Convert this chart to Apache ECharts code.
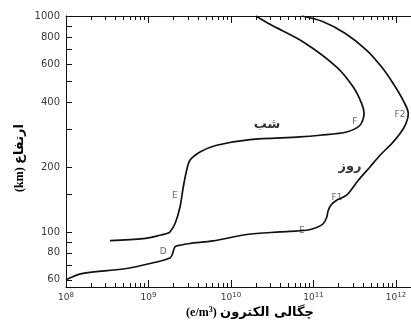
<!DOCTYPE html>
<html><head><meta charset="utf-8">
<script src="https://cdn.jsdelivr.net/npm/echarts@6/dist/echarts.min.js"></script>
<style>html,body{margin:0;padding:0;background:#fff}#c{width:411px;height:322px}</style>
</head><body><div id="c"></div>
<script>
// Day profile (روز): electron density (e/m^3) and altitude (km)
const dayDensity  = [1.0e8, 1.55e8, 5.45e8, 1.04e9, 1.82e9, 1.95e9, 2.09e9, 2.41e9, 3.18e9, 6.1e9, 1.55e10, 3.93e10, 8.27e10, 1.09e11, 1.32e11, 1.45e11, 1.51e11, 1.66e11, 1.91e11, 2.52e11, 3.49e11, 4.84e11, 6.4e11, 8.87e11, 1.12e12, 1.32e12, 1.41e12, 1.22e12, 9.2e11, 6.71e11, 4.42e11, 2.41e11, 1.27e11, 7.2e10];
const dayAltitude = [60, 64.1, 67.7, 71.4, 75.8, 78.9, 85.2, 86.8, 88.4, 90.9, 97.3, 100, 101.8, 104.8, 109.4, 117.3, 126.1, 134.3, 140.3, 147.9, 173.5, 200, 226.5, 256.6, 285.5, 317.6, 353, 407, 488, 580, 694, 832, 945, 1000];
// Night profile (شب)
const nightDensity  = [3.41e8, 8.65e8, 1.38e9, 1.66e9, 1.82e9, 2.1e9, 2.41e9, 2.64e9, 2.9e9, 3.18e9, 4.21e9, 6.7e9, 1.7e10, 6.85e10, 1.2e11, 2.52e11, 3.66e11, 4.1e11, 3.84e11, 3.03e11, 1.91e11, 7.52e10, 2.97e10, 2.01e10];
const nightAltitude = [91.1, 93.2, 96.5, 98.3, 100, 109.4, 130.5, 161.5, 193, 214.7, 234.6, 252, 267.8, 275.3, 280.4, 290.4, 311.9, 353.3, 393, 469, 580, 758, 915, 1000];
// Layer labels
const layerLabels   = ['D', 'E', 'E', 'F1', 'F2', 'F'];
const layerDensity  = [1.51e9, 2.09e9, 7.2e10, 1.93e11, 1.12e12, 3.18e11];
const layerAltitude = [80.8, 147.9, 100.9, 143.4, 350.7, 325.5];
// Curve names
const curveNames = ['شب', 'روز'];
const curveNameDensity = [2.73e10, 2.77e11];
const curveNameAltitude = [315, 201.5];
// Axes
const yTickValues  = [60, 70, 80, 90, 100, 150, 200, 300, 400, 500, 600, 700, 800, 900, 1000];
const yLabelValues = [60, 80, 100, 200, 400, 600, 800, 1000];
const xDecades = [1e8, 1e9, 1e10, 1e11, 1e12];
const xMinorMultipliers = [2, 3, 4, 5, 6, 7, 8, 9];
const xLabelExponents = ['8', '9', '10', '11', '12'];
const xTitleText = 'چگالی الکترون';
const xTitleUnit = '(e/m';
const yTitleText = 'ارتفاع';
const yTitleUnit = '(km)';

const xMin = 1e8, xMax = 1.52e12, yMin = 55.6, yMax = 1000;
const xMinor = [];
xDecades.forEach(d => xMinorMultipliers.forEach(m => { if (d * m <= xMax) xMinor.push(d * m); }));

const ink = '#111';
const grey = '#3a3a3a';
const zip = (a, b) => a.map((v, i) => [v, b[i]]);

function xAxisDef(pos, vals, len, withLine, withLabel) {
  return {
    type: 'log', logBase: 10, min: xMin, max: xMax, position: pos,
    axisLine: { show: withLine, onZero: false, lineStyle: { color: ink, width: 1 } },
    axisTick: { show: true, inside: true, length: len, customValues: vals, lineStyle: { color: ink, width: 1 } },
    axisLabel: withLabel ? {
      show: true, customValues: xDecades, margin: 5,
      formatter: v => { const i = Math.round(Math.log10(v)) - 8; return '{b|10}{s|' + xLabelExponents[i] + '}'; },
      rich: {
        b: { fontFamily: 'DejaVu Sans', fontSize: 9, color: grey, lineHeight: 12 },
        s: { fontFamily: 'DejaVu Sans', fontSize: 7, color: grey, padding: [0, 0, 6, 0], lineHeight: 12 }
      }
    } : { show: false },
    splitLine: { show: false }, minorTick: { show: false }
  };
}

const chart = echarts.init(document.getElementById('c'), null, { renderer: 'canvas' });
chart.setOption({
  animation: false,
  backgroundColor: '#fff',
  grid: { left: 66, right: 0, top: 16, bottom: 35, containLabel: false },
  xAxis: [
    xAxisDef('bottom', xDecades, 7, true, true),
    xAxisDef('bottom', xMinor, 4, false, false),
    xAxisDef('top', xDecades, 7, true, false),
    xAxisDef('top', xMinor, 4, false, false)
  ],
  yAxis: {
    type: 'log', logBase: 10, min: yMin, max: yMax,
    axisLine: { show: true, onZero: false, lineStyle: { color: ink, width: 1 } },
    axisTick: { show: true, inside: true, length: 6, customValues: yTickValues, lineStyle: { color: ink } },
    axisLabel: { show: true, customValues: yLabelValues, margin: 6, fontFamily: 'DejaVu Sans', fontSize: 10, color: grey,
      formatter: v => String(Math.round(v)) },
    splitLine: { show: false }
  },
  series: [
    { type: 'line', name: 'day', data: zip(dayDensity, dayAltitude), smooth: 0.3, showSymbol: false,
      lineStyle: { color: ink, width: 1.7 }, silent: true },
    { type: 'line', name: 'night', data: zip(nightDensity, nightAltitude), smooth: 0.3, showSymbol: false,
      lineStyle: { color: ink, width: 1.7 }, silent: true },
    { type: 'scatter', data: zip(layerDensity, layerAltitude), symbolSize: 1, itemStyle: { color: 'rgba(0,0,0,0)' },
      label: { show: true, position: 'inside', formatter: p => layerLabels[p.dataIndex],
        fontFamily: 'DejaVu Sans', fontSize: 9, color: '#444' }, silent: true },
    { type: 'scatter', data: zip(curveNameDensity, curveNameAltitude), symbolSize: 1, itemStyle: { color: 'rgba(0,0,0,0)' },
      label: { show: true, position: 'inside', formatter: p => curveNames[p.dataIndex],
        fontFamily: 'DejaVu Sans', fontWeight: 'bold', fontSize: 13, color: '#000' }, silent: true }
  ],
  graphic: [
    { type: 'text', x: 250, y: 313, silent: true,
      style: { text: '{u|' + xTitleUnit + '}{sup|3}{u|)}{sp| }{fa|' + xTitleText + '}', align: 'center', verticalAlign: 'middle',
        rich: {
          u: { fontFamily: 'Liberation Serif', fontWeight: 'bold', fontSize: 12, fill: '#000', lineHeight: 14 },
          sup: { fontFamily: 'Liberation Serif', fontWeight: 'bold', fontSize: 8, fill: '#000', padding: [0, 0, 6, 0], lineHeight: 14 },
          sp: { fontSize: 12, lineHeight: 14 },
          fa: { fontFamily: 'DejaVu Sans', fontWeight: 'bold', fontSize: 13, fill: '#000', lineHeight: 14 }
        } } },
    { type: 'text', x: 20, y: 158, rotation: Math.PI / 2, silent: true,
      style: { text: '{u|' + yTitleUnit + '}{sp| }{fa|' + yTitleText + '}', align: 'center', verticalAlign: 'middle',
        rich: {
          u: { fontFamily: 'Liberation Serif', fontWeight: 'bold', fontSize: 12, fill: '#000', lineHeight: 14 },
          sp: { fontSize: 12, lineHeight: 14 },
          fa: { fontFamily: 'DejaVu Sans', fontWeight: 'bold', fontSize: 13, fill: '#000', lineHeight: 14 }
        } } }
  ]
});
</script>
</body></html>
